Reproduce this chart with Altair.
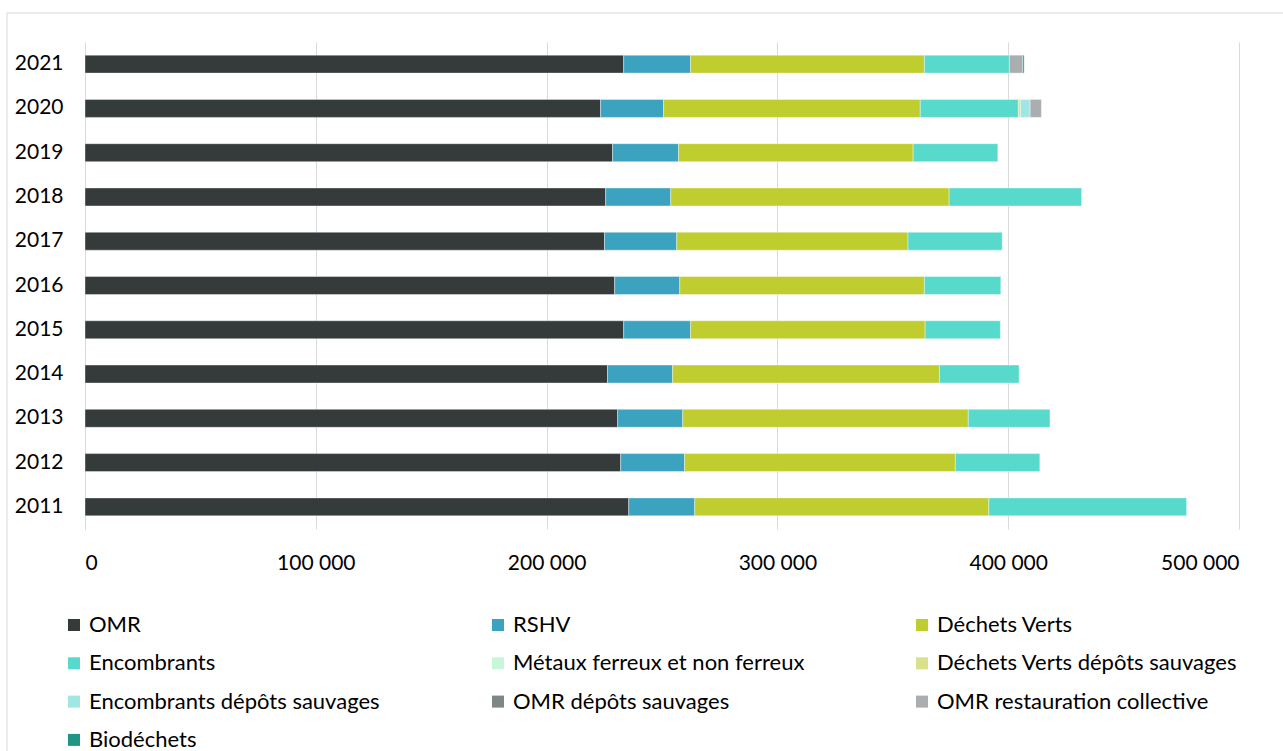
import altair as alt
import pandas as pd

years = ["2021", "2020", "2019", "2018", "2017", "2016", "2015", "2014", "2013", "2012", "2011"]

categories = [
    "OMR", "RSHV", "Déchets Verts", "Encombrants", "Métaux ferreux et non ferreux",
    "Déchets Verts dépôts sauvages", "Encombrants dépôts sauvages", "OMR dépôts sauvages",
    "OMR restauration collective", "Biodéchets",
]
colors = ["#353a3b", "#3ba3c0", "#bfcd2f", "#57d9cc", "#c8f7d8",
          "#d9e28a", "#a0e7e3", "#7f8687", "#abaeb0", "#1f9585"]

omr        = [233400, 223400, 228600, 225600, 225100, 229500, 233400, 226400, 230800, 232100, 235600]
rshv       = [29000, 27300, 28600, 28200, 31300, 28200, 29000, 28200, 28200, 27700, 28600]
dv         = [101300, 111200, 101600, 120600, 100200, 106000, 101600, 115600, 123700, 117300, 127400]
enc        = [36800, 42500, 36700, 57400, 40800, 33100, 32600, 34500, 35400, 36600, 85700]
metaux     = [0, 0, 0, 0, 0, 0, 0, 0, 0, 0, 0]
dv_sauv    = [0, 900, 0, 0, 0, 0, 0, 0, 0, 0, 0]
enc_sauv   = [0, 4200, 0, 0, 0, 0, 0, 0, 0, 0, 0]
omr_depots = [0, 0, 0, 0, 0, 0, 0, 0, 0, 0, 0]
omr_rest   = [5800, 4900, 0, 0, 0, 0, 0, 0, 0, 0, 0]
bio        = [600, 0, 0, 0, 0, 0, 0, 0, 0, 0, 0]

series = [omr, rshv, dv, enc, metaux, dv_sauv, enc_sauv, omr_depots, omr_rest, bio]

rows = []
for ci, (cat, vals) in enumerate(zip(categories, series)):
    for y, v in zip(years, vals):
        if v > 0:
            rows.append({"year": y, "cat": cat, "value": v, "idx": ci})
df = pd.DataFrame(rows)

# Vega lays legend entries out column-first; permute so they read row by row
perm = [0, 3, 6, 8, 1, 4, 7, 9, 2, 5]
legend_domain = [categories[i] for i in perm]
legend_range = [colors[i] for i in perm]

FONT = "Lato"

bars = alt.Chart(df).mark_bar(stroke="white", strokeWidth=0.4).encode(
    x=alt.X("value:Q", stack="zero",
            scale=alt.Scale(domain=[0, 500000], nice=False),
            axis=alt.Axis(values=[0, 100000, 200000, 300000, 400000, 500000],
                          labelExpr="replace(format(datum.value, ','), ',', ' ')",
                          domain=False, ticks=False, grid=True, gridColor="#d9d9d9",
                          labelPadding=23, labelFontSize=21, labelColor="#000000",
                          labelFont=FONT, title=None)),
    y=alt.Y("year:N", sort=years,
            scale=alt.Scale(paddingInner=0.594, paddingOuter=0.297),
            axis=alt.Axis(domain=True, domainColor="#d9d9d9", ticks=False, grid=False,
                          labelPadding=22, labelFontSize=21, labelColor="#000000",
                          labelFont=FONT, title=None)),
    color=alt.Color("cat:N", scale=alt.Scale(domain=legend_domain, range=legend_range),
                    legend=alt.Legend(orient="none", legendX=-22, legendY=572, columns=3,
                                      symbolType="square", symbolSize=144, symbolStrokeWidth=0,
                                      labelFontSize=22, labelFont=FONT, labelColor="#000000",
                                      labelLimit=600, rowPadding=16.3, columnPadding=97,
                                      gridAlign="all", labelOffset=4, title=None)),
    order=alt.Order("idx:Q"),
    tooltip=["year", "cat", "value"],
)

border = alt.Chart(pd.DataFrame({"a": [0]})).mark_rect(
    fillOpacity=0, stroke="#d9d9d9", strokeWidth=1
).encode(
    x=alt.value(-78), x2=alt.value(1300), y=alt.value(-29), y2=alt.value(800)
)

chart = alt.layer(border, bars).properties(
    width=1154, height=487,
    background="white",
    autosize=alt.AutoSizeParams(type="none"),
    padding={"left": 85, "top": 42, "right": 44, "bottom": 222},
).configure_view(strokeWidth=0, stroke="transparent")

chart.save("out.html", embed_options={"renderer": "svg", "actions": False})
